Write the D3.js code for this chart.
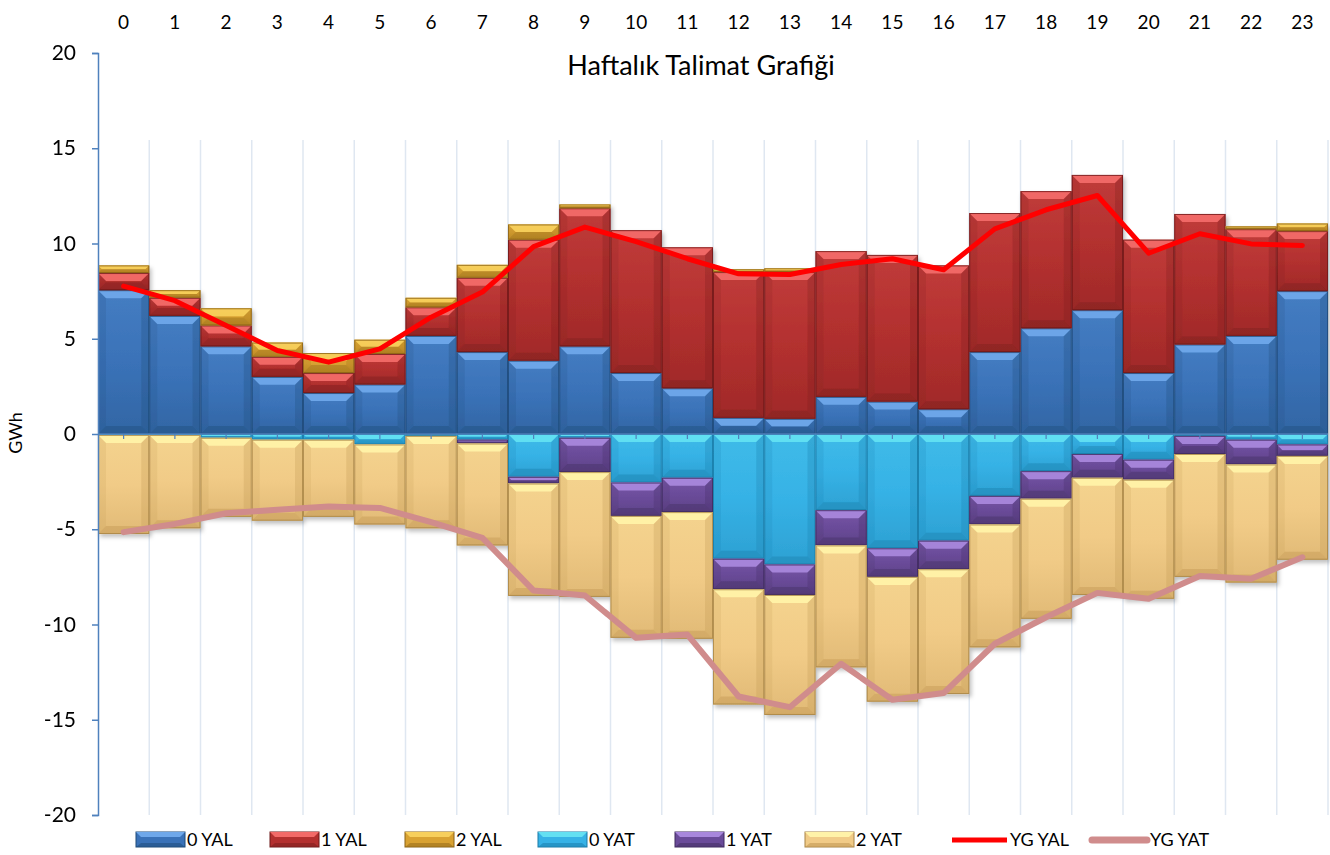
<!DOCTYPE html>
<html>
<head>
<meta charset="utf-8">
<script src="https://cdn.jsdelivr.net/npm/d3@7"></script>
<style>
  html, body { margin: 0; padding: 0; background: #fff; }
  svg { display: block; font-family: Lato, "Open Sans", sans-serif; }
</style>
</head>
<body>
<svg id="chart" width="1330" height="855"></svg>
<script>
// ---- data ----
const hours = ["0","1","2","3","4","5","6","7","8","9","10","11","12","13","14","15","16","17","18","19","20","21","22","23"];
const yal0 = [7.55,6.2,4.6,3.0,2.15,2.6,5.15,4.3,3.85,4.6,3.2,2.4,0.85,0.8,1.95,1.7,1.3,4.3,5.55,6.5,3.2,4.7,5.15,7.5];
const yal1 = [0.9,0.95,1.1,1.05,1.05,1.6,1.5,3.9,6.35,7.25,7.5,7.4,7.65,7.7,7.65,7.7,7.55,7.3,7.2,7.1,7.0,6.85,5.6,3.15];
const yal2 = [0.4,0.4,0.9,0.75,1.05,0.75,0.5,0.68,0.8,0.2,0,0,0.15,0.2,0,0,0,0,0,0,0,0,0.15,0.4];
const yat0 = [-0.05,-0.05,-0.2,-0.3,-0.3,-0.55,-0.1,-0.3,-2.25,-0.2,-2.55,-2.3,-6.55,-6.85,-4.0,-6.0,-5.6,-3.25,-1.95,-1.05,-1.35,-0.1,-0.3,-0.55];
const yat1 = [0,0,0,0,0,0,0,-0.2,-0.35,-1.8,-1.75,-1.8,-1.6,-1.6,-1.85,-1.5,-1.5,-1.5,-1.45,-1.25,-1.05,-0.95,-1.3,-0.6];
const yat2 = [-5.2,-4.9,-4.15,-4.25,-4.05,-4.2,-4.85,-5.35,-5.9,-6.55,-6.4,-6.65,-6.05,-6.3,-6.4,-6.55,-6.55,-6.45,-6.3,-6.15,-6.25,-6.45,-6.2,-5.45];
const ygYal = [7.76,7.0,5.7,4.38,3.77,4.47,6.13,7.45,9.84,10.86,10.1,9.2,8.41,8.37,8.9,9.2,8.62,10.77,11.77,12.52,9.49,10.51,9.98,9.9];
const ygYat = [-5.15,-4.72,-4.16,-3.98,-3.81,-3.88,-4.63,-5.45,-8.22,-8.48,-10.7,-10.53,-13.78,-14.34,-12.06,-13.95,-13.6,-11.01,-9.62,-8.34,-8.65,-7.46,-7.6,-6.47];
const yTicks = [20,15,10,5,0,-5,-10,-15,-20];
const seriesNames = ["0 YAL","1 YAL","2 YAL","0 YAT","1 YAT","2 YAT"];
const lineNames = ["YG YAL","YG YAT"];
const title = "Haftalık Talimat Grafiği";
const yLabel = "GWh";

// ---- styles ----
const palette = {
  "0 YAL": {main:"#3a72b8", light:"#6fa8ea", dark:"#22507f", edge:"#1f4a78"},
  "1 YAL": {main:"#b3302f", light:"#f26a68", dark:"#7e1f1f", edge:"#6e1a1a"},
  "2 YAL": {main:"#d9a232", light:"#f7cf5c", dark:"#9a6e1a", edge:"#8a6216"},
  "0 YAT": {main:"#36b2e6", light:"#63e0f2", dark:"#1d82b0", edge:"#1a7aa6"},
  "1 YAT": {main:"#6a4b99", light:"#a887dc", dark:"#463066", edge:"#3f2b5e"},
  "2 YAT": {main:"#f1cb87", light:"#fff2a8", dark:"#c39a55", edge:"#a88446"}
};
const lineColors = {"YG YAL":"#ff0000", "YG YAT":"#d08c8c"};

const svg = d3.select("#chart");
const x = d3.scaleBand().domain(hours).range([98, 1328]).padding(0);
const y = d3.scaleLinear().domain([-20, 20]).range([815, 53]);

const rows = hours.map((h, i) => ({
  hour: h,
  "0 YAL": yal0[i], "1 YAL": yal1[i], "2 YAL": yal2[i],
  "0 YAT": yat0[i], "1 YAT": yat1[i], "2 YAT": yat2[i]
}));
const stacked = d3.stack().keys(seriesNames).offset(d3.stackOffsetDiverging)(rows);

// defs
const defs = svg.append("defs");
const f = defs.append("filter").attr("id","shadow").attr("x","-10%").attr("y","-10%").attr("width","130%").attr("height","130%");
f.append("feDropShadow").attr("dx",2).attr("dy",3).attr("stdDeviation",2).attr("flood-color","#000").attr("flood-opacity",0.25);
seriesNames.forEach((k, i) => {
  const g = defs.append("linearGradient").attr("id","grad"+i).attr("x1",0).attr("y1",0).attr("x2",0).attr("y2",1);
  g.append("stop").attr("offset","0%").attr("stop-color", d3.interpolateRgb(palette[k].main, palette[k].light)(0.2));
  g.append("stop").attr("offset","50%").attr("stop-color", palette[k].main);
  g.append("stop").attr("offset","100%").attr("stop-color", d3.interpolateRgb(palette[k].main, palette[k].dark)(0.35));
});

// vertical gridlines at category boundaries
const gridG = svg.append("g");
hours.forEach((h, i) => {
  if (i === 0) return;
  const gx = x(h);
  gridG.append("line").attr("x1",gx).attr("x2",gx).attr("y1",140).attr("y2",y(-20))
    .attr("stroke","#dfe7f1").attr("stroke-width",1.5);
});
gridG.append("line").attr("x1",1328).attr("x2",1328).attr("y1",140).attr("y2",y(-20))
  .attr("stroke","#dfe7f1").attr("stroke-width",1.5);

// bars with bevel
const barsG = svg.append("g").attr("filter","url(#shadow)");
stacked.forEach((layer, li) => {
  const k = layer.key, c = palette[k];
  layer.forEach((d, i) => {
    const y0 = y(Math.max(d[0], d[1])), y1 = y(Math.min(d[0], d[1]));
    const h = y1 - y0;
    if (h < 0.3) return;
    const x0 = x(hours[i]), w = x.bandwidth();
    const g = barsG.append("g");
    g.append("rect").attr("x",x0).attr("y",y0).attr("width",w).attr("height",h)
      .attr("fill","url(#grad"+li+")");
    const b = Math.min(8, h / 2);
    g.append("polygon").attr("points", [[x0,y0],[x0+w,y0],[x0+w-b,y0+b],[x0+b,y0+b]].join(" "))
      .attr("fill", c.light).attr("opacity",0.95);
    g.append("polygon").attr("points", [[x0,y1],[x0+w,y1],[x0+w-b,y1-b],[x0+b,y1-b]].join(" "))
      .attr("fill", c.dark).attr("opacity",0.45);
    g.append("polygon").attr("points", [[x0,y0],[x0+b,y0+b],[x0+b,y1-b],[x0,y1]].join(" "))
      .attr("fill", c.dark).attr("opacity",0.18);
    g.append("polygon").attr("points", [[x0+w,y0],[x0+w-b,y0+b],[x0+w-b,y1-b],[x0+w,y1]].join(" "))
      .attr("fill", c.dark).attr("opacity",0.3);
    g.append("rect").attr("x",x0+0.5).attr("y",y0+0.5).attr("width",w-1).attr("height",Math.max(0,h-1))
      .attr("fill","none").attr("stroke",c.edge).attr("stroke-width",1).attr("opacity",0.8);
  });
});

// zero axis with ticks at category centers
const zeroY = y(0);
svg.append("line").attr("x1",98).attr("x2",1328).attr("y1",zeroY).attr("y2",zeroY)
  .attr("stroke","#4f81bd").attr("stroke-width",1.5);
hours.forEach(h => {
  const cx = x(h) + x.bandwidth()/2;
  svg.append("line").attr("x1",cx).attr("x2",cx).attr("y1",zeroY).attr("y2",zeroY+5)
    .attr("stroke","#4f81bd").attr("stroke-width",1.2);
});

// lines
const line = d3.line().x((d, i) => x(hours[i]) + x.bandwidth()/2).y(d => y(d));
svg.append("path").datum(ygYat).attr("d", line).attr("fill","none")
  .attr("stroke", lineColors["YG YAT"]).attr("stroke-width",6).attr("stroke-linejoin","round").attr("stroke-linecap","round");
svg.append("path").datum(ygYal).attr("d", line).attr("fill","none")
  .attr("stroke", lineColors["YG YAL"]).attr("stroke-width",5).attr("stroke-linejoin","round").attr("stroke-linecap","round");

// y axis
const yAxis = d3.axisLeft(y).tickValues(yTicks).tickSize(6).tickFormat(d => String(d));
const ya = svg.append("g").attr("transform","translate(98,0)").call(yAxis);
ya.select(".domain").attr("stroke","#4f81bd").attr("stroke-width",1.5);
ya.selectAll(".tick line").attr("stroke","#4f81bd").attr("stroke-width",1.5);
ya.selectAll(".tick text").attr("font-size",21).attr("fill","#000").attr("x",-22)
  .attr("font-family","Lato, 'Open Sans', sans-serif");

// top x labels
const xAxis = d3.axisTop(x).tickSize(0).tickPadding(0);
const xa = svg.append("g").attr("transform","translate(0,29)").call(xAxis);
xa.select(".domain").remove();
xa.selectAll(".tick text").attr("font-size",19).attr("fill","#000").attr("dy",0)
  .attr("font-family","Lato, 'Open Sans', sans-serif");

// title
svg.append("text").attr("x",701).attr("y",75).attr("text-anchor","middle")
  .attr("font-size",27).attr("fill","#000").text(title);

// y label
svg.append("text").attr("transform","translate(22,433) rotate(-90)").attr("text-anchor","middle")
  .attr("font-size",18).attr("fill","#000").text(yLabel);

// legend
const legendPos = [136, 270, 405, 538, 675, 805];
const lg = svg.append("g");
seriesNames.forEach((k, i) => {
  const c = palette[k], lx = legendPos[i], ly = 832, lw = 49, lh = 15;
  lg.append("rect").attr("x",lx).attr("y",ly).attr("width",lw).attr("height",lh).attr("fill",c.main).attr("stroke",c.edge);
  lg.append("polygon").attr("points",[[lx,ly],[lx+lw,ly],[lx+lw-5,ly+5],[lx+5,ly+5]].join(" ")).attr("fill",c.light);
  lg.append("polygon").attr("points",[[lx,ly+lh],[lx+lw,ly+lh],[lx+lw-5,ly+lh-4],[lx+5,ly+lh-4]].join(" ")).attr("fill",c.dark).attr("opacity",0.6);
  lg.append("text").attr("x",lx+lw+2).attr("y",ly+14).attr("font-size",18).attr("fill","#000").text(k);
});
const linePos = [952, 1092];
lineNames.forEach((k, i) => {
  const lx = linePos[i], ly = 840;
  lg.append("line").attr("x1",lx).attr("x2",lx+55).attr("y1",ly).attr("y2",ly)
    .attr("stroke",lineColors[k]).attr("stroke-width", i === 0 ? 5 : 7).attr("stroke-linecap", i === 0 ? "butt" : "round");
  lg.append("text").attr("x",lx+58).attr("y",ly+6).attr("font-size",18).attr("fill","#000").text(k);
});
</script>
</body>
</html>
